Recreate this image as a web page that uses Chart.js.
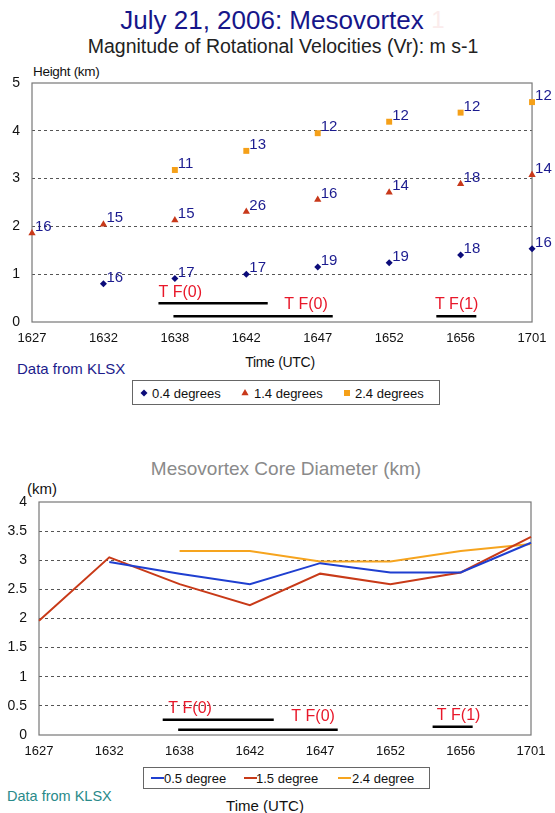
<!DOCTYPE html>
<html>
<head>
<meta charset="utf-8">
<script src="https://cdn.jsdelivr.net/npm/chart.js@4.4.1/dist/chart.umd.min.js"></script>
<style>
  body { margin: 0; background: #fff; width: 555px; height: 813px; position: relative; overflow: hidden;
         font-family: Arial, "Liberation Sans", sans-serif; }
  .t { position: absolute; white-space: nowrap; line-height: 1; }
  .c { transform: translate(-50%, -50%); }
  .l { transform: translateY(-50%); }
  canvas { position: absolute; left: 0; }
  .legend { position: absolute; border: 1px solid #666; background: #fff; box-sizing: border-box; }
  .legend span, .legend svg { position: absolute; top: 50%; transform: translateY(-50%); }
  .legend span { font-size: 13px; color: #111; white-space: nowrap; line-height: 1; }
</style>
</head>
<body>

<div class="t c" style="left:272px;top:20px;font-size:26px;color:#16168a">July 21, 2006: Mesovortex</div>
<div class="t c" style="left:438px;top:20px;font-size:24px;color:#fbecec">1</div>
<div class="t c" style="left:283px;top:47px;font-size:19.5px;color:#222">Magnitude of Rotational Velocities (Vr): m s-1</div>
<div class="t l" style="left:33px;top:72px;font-size:13.5px;color:#111;letter-spacing:-0.3px">Height (km)</div>
<canvas id="chartVr" width="555" height="290" style="top:60px"></canvas>
<div class="t c" style="left:280px;top:362px;font-size:14px;color:#111;letter-spacing:-0.3px">Time (UTC)</div>
<div class="t l" style="left:17px;top:368px;font-size:15px;color:#1c1c8c">Data from KLSX</div>
<div class="legend" id="legendVr" style="left:132px;top:380px;width:308px;height:25px"></div>

<div class="t c" style="left:286px;top:468px;font-size:19px;color:#8a8a8a">Mesovortex Core Diameter (km)</div>
<div class="t l" style="left:27px;top:488px;font-size:15px;color:#111">(km)</div>
<canvas id="chartCore" width="555" height="285" style="top:480px"></canvas>
<div class="legend" id="legendCore" style="left:143px;top:767px;width:287px;height:22px"></div>
<div class="t l" style="left:7px;top:796px;font-size:14.5px;color:#2a8a8a">Data from KLSX</div>
<div class="t c" style="left:265px;top:805px;font-size:15px;color:#111">Time (UTC)</div>

<script>
// thời gian quét radar (UTC)
const times = ['1627', '1632', '1638', '1642', '1647', '1652', '1656', '1701'];

// Biểu đồ 1: độ cao (km) và Vr (m s-1) theo góc quét
const seriesVr = ['0.4 degrees', '1.4 degrees', '2.4 degrees'];
const height04 = [null, 0.80, 0.91, 1.00, 1.15, 1.24, 1.40, 1.53];
const height14 = [1.86, 2.04, 2.13, 2.31, 2.56, 2.71, 2.89, 3.08];
const height24 = [null, null, 3.18, 3.58, 3.95, 4.19, 4.38, 4.60];
const vr04 = [null, 16, 17, 17, 19, 19, 18, 16];
const vr14 = [16, 15, 15, 26, 16, 14, 18, 14];
const vr24 = [null, null, 11, 13, 12, 12, 12, 12];
const heightTicks = ['0', '1', '2', '3', '4', '5'];

// Biểu đồ 2: đường kính lõi (km)
const seriesCore = ['0.5 degree', '1.5 degree', '2.4 degree'];
const core05 = [null, 2.97, 2.77, 2.59, 2.95, 2.79, 2.79, 3.30];
const core15 = [1.96, 3.05, 2.59, 2.23, 2.77, 2.59, 2.79, 3.40];
const core24 = [null, null, 3.16, 3.16, 2.98, 2.98, 3.16, 3.28];
const diamTicks = ['0', '0.5', '1', '1.5', '2', '2.5', '3', '3.5', '4'];

// vệt lốc xoáy: [nhãn, bắt đầu, kết thúc (chỉ số thời gian), mức y, nhãn x, nhãn y]
const tfVr = [
  ['T F(0)', 1.77, 3.30, 0.39, 1.77, 0.61],
  ['T F(0)', 1.98, 4.21, 0.12, 3.53, 0.36],
  ['T F(1)', 5.66, 6.22, 0.12, 5.64, 0.36]
];
const tfCore = [
  ['T F(0)', 1.76, 3.34, 0.26, 1.84, 0.46],
  ['T F(0)', 1.98, 4.25, 0.09, 3.59, 0.31],
  ['T F(1)', 5.60, 6.17, 0.14, 5.66, 0.34]
];

const navy = '#0c0c7a';
const red = '#c8381a';
const orange = '#f5a018';
const lineBlue = '#1f3fd0';
const lineRed = '#c83a18';
const lineOrange = '#f6a41e';

const font = { family: 'Arial, "Liberation Sans", sans-serif' };

// khung + vệt lốc xoáy
function framePlugin(bars) {
  return {
    id: 'frameTf',
    beforeDatasetsDraw(chart) {
      const a = chart.chartArea, ctx = chart.ctx;
      ctx.save();
      ctx.strokeStyle = '#777';
      ctx.lineWidth = 1.2;
      ctx.strokeRect(a.left, a.top, a.right - a.left, a.bottom - a.top);
      ctx.restore();
    },
    afterDraw(chart) {
      const x = chart.scales.x, y = chart.scales.y, ctx = chart.ctx;
      ctx.save();
      bars.forEach(([label, from, to, level, lx, ly]) => {
        ctx.strokeStyle = '#000';
        ctx.lineWidth = 2.5;
        ctx.beginPath();
        ctx.moveTo(x.getPixelForValue(from), y.getPixelForValue(level));
        ctx.lineTo(x.getPixelForValue(to), y.getPixelForValue(level));
        ctx.stroke();
        ctx.fillStyle = '#e8182a';
        ctx.font = '16px Arial, "Liberation Sans", sans-serif';
        ctx.textAlign = 'left';
        ctx.textBaseline = 'middle';
        ctx.fillText(label, x.getPixelForValue(lx), y.getPixelForValue(ly));
      });
      ctx.restore();
    }
  };
}

// nhãn giá trị Vr cạnh từng điểm
const valueLabelPlugin = {
  id: 'valueLabels',
  afterDatasetsDraw(chart) {
    const ctx = chart.ctx;
    ctx.save();
    ctx.fillStyle = '#1b1b8f';
    ctx.font = '15px Arial, "Liberation Sans", sans-serif';
    ctx.textAlign = 'left';
    ctx.textBaseline = 'alphabetic';
    chart.data.datasets.forEach((ds, i) => {
      chart.getDatasetMeta(i).data.forEach((pt, j) => {
        const v = ds.valueLabels[j];
        if (v == null || ds.data[j] == null) return;
        ctx.fillText(String(v), pt.x + 3, pt.y - 2);
      });
    });
    ctx.restore();
  }
};

function axes(yMax, step, tickLabels, yWidth, xPad, xHeight) {
  return {
    x: {
      type: 'category',
      offset: false,
      grid: { display: false, drawTicks: false },
      border: { display: false },
      ticks: { color: '#111', font: { ...font, size: 13 }, padding: xPad, autoSkip: false, maxRotation: 0 },
      afterFit(s) { s.height = xHeight; }
    },
    y: {
      min: 0, max: yMax,
      grid: {
        drawTicks: false, lineWidth: 1,
        color: c => (c.tick.value <= 0 || c.tick.value >= yMax) ? 'rgba(0,0,0,0)' : '#555'
      },
      border: { display: false, dash: [3, 3] },
      ticks: { stepSize: step, color: '#111', font: { ...font, size: 14 }, padding: 12,
               callback: (v, i) => tickLabels[i] },
      afterFit(s) { s.width = yWidth; }
    }
  };
}

const chartVr = new Chart(document.getElementById('chartVr'), {
  type: 'line',
  data: {
    labels: times,
    datasets: [
      { label: seriesVr[0], data: height04, valueLabels: vr04, showLine: false, pointStyle: 'rectRot',
        pointRadius: 3.5, backgroundColor: navy, borderColor: navy, borderWidth: 0, clip: false },
      { label: seriesVr[1], data: height14, valueLabels: vr14, showLine: false, pointStyle: 'triangle',
        pointRadius: 4.2, backgroundColor: red, borderColor: red, borderWidth: 0, clip: false },
      { label: seriesVr[2], data: height24, valueLabels: vr24, showLine: false, pointStyle: 'rect',
        pointRadius: 4.2, backgroundColor: orange, borderColor: orange, borderWidth: 0, clip: false }
    ]
  },
  options: {
    responsive: false,
    animation: false,
    layout: { padding: { left: 0, right: 18, top: 23, bottom: 0 } },
    plugins: { legend: { display: false }, tooltip: { enabled: false } },
    scales: axes(5, 1, heightTicks, 32, 8.5, 28)
  },
  plugins: [framePlugin(tfVr), valueLabelPlugin]
});

const chartCore = new Chart(document.getElementById('chartCore'), {
  type: 'line',
  data: {
    labels: times,
    datasets: [
      { label: seriesCore[0], data: core05, borderColor: lineBlue, borderWidth: 2, pointRadius: 0, tension: 0, clip: false },
      { label: seriesCore[1], data: core15, borderColor: lineRed, borderWidth: 2, pointRadius: 0, tension: 0, clip: false },
      { label: seriesCore[2], data: core24, borderColor: lineOrange, borderWidth: 2, pointRadius: 0, tension: 0, clip: false }
    ]
  },
  options: {
    responsive: false,
    animation: false,
    layout: { padding: { left: 0, right: 24, top: 22, bottom: 0 } },
    plugins: { legend: { display: false }, tooltip: { enabled: false } },
    scales: axes(4, 0.5, diamTicks, 39, 9, 30)
  },
  plugins: [framePlugin(tfCore)]
});

// chú giải HTML
const legendVr = document.getElementById('legendVr');
const markersVr = [
  '<polygon points="0,-3.5 3.5,0 0,3.5 -3.5,0" fill="' + navy + '"/>',
  '<polygon points="0,-4 3.6,2.2 -3.6,2.2" fill="' + red + '"/>',
  '<rect x="-3" y="-3" width="6" height="6" fill="' + orange + '"/>'
];
[[11, 19], [112, 121], [214, 222]].forEach(([mx, tx], i) => {
  legendVr.insertAdjacentHTML('beforeend',
    '<svg width="10" height="10" viewBox="-5 -5 10 10" style="left:' + (mx - 5) + 'px">' + markersVr[i] + '</svg>' +
    '<span style="left:' + tx + 'px">' + seriesVr[i] + '</span>');
});

const legendCore = document.getElementById('legendCore');
const coreColors = [lineBlue, lineRed, lineOrange];
[[7, 20], [100, 112], [194, 208]].forEach(([mx, tx], i) => {
  legendCore.insertAdjacentHTML('beforeend',
    '<svg width="13" height="4" style="left:' + mx + 'px"><line x1="0" y1="2" x2="13" y2="2" stroke="' + coreColors[i] + '" stroke-width="2"/></svg>' +
    '<span style="left:' + tx + 'px">' + seriesCore[i] + '</span>');
});
</script>
</body>
</html>
